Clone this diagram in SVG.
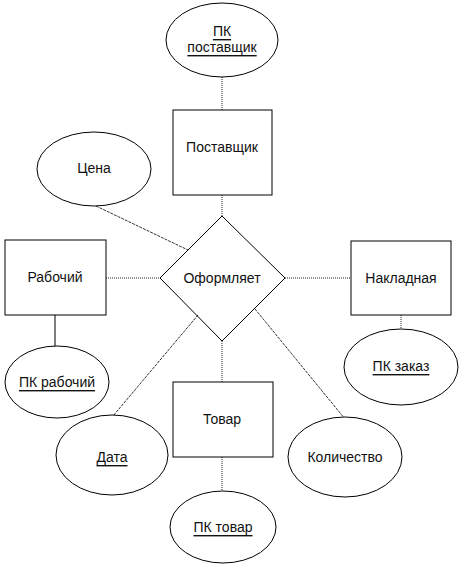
<svg xmlns="http://www.w3.org/2000/svg" width="461" height="565" viewBox="0 0 461 565">
<style>
text{font-family:"Liberation Sans",Arial,sans-serif;font-size:14px;fill:#111;text-anchor:middle;dominant-baseline:central}
.u{text-decoration:underline}
.box{fill:#fff;stroke:#000;stroke-width:1}
.ell{fill:#fff;stroke:#000;stroke-width:1}
.dot{stroke:#222;stroke-width:1;stroke-dasharray:1 1;fill:none}
.dsh{stroke:#000;stroke-width:0.8;stroke-dasharray:3 1;fill:none}
.sol{stroke:#000;stroke-width:1;fill:none}
</style>
<rect width="461" height="565" fill="#fff"/>
<g id="connectors">
<line class="dot" x1="222" y1="77" x2="222" y2="110"/>
<line class="dot" x1="222" y1="195" x2="222" y2="216"/>
<line class="dsh" x1="96" y1="206" x2="188" y2="250"/>
<line class="dot" x1="106" y1="278" x2="160" y2="278"/>
<line class="sol" x1="55" y1="315" x2="55" y2="346"/>
<line class="dot" x1="285" y1="278" x2="351" y2="278"/>
<line class="dot" x1="401" y1="315" x2="401" y2="329"/>
<line class="dsh" x1="198" y1="315" x2="113" y2="416"/>
<line class="dot" x1="222" y1="341" x2="222" y2="382"/>
<line class="dsh" x1="255" y1="309" x2="345" y2="419"/>
<line class="dot" x1="222" y1="457" x2="222" y2="491"/>
</g>
<g id="pk_postavshchik"><ellipse class="ell" cx="222" cy="40" rx="56" ry="37"/><text class="u" x="222" y="31">ПК</text><text class="u" x="222" y="47">поставщик</text></g>
<g id="postavshchik"><rect class="box" x="173" y="110" width="99" height="85"/><text x="222" y="147">Поставщик</text></g>
<g id="tsena"><ellipse class="ell" cx="94" cy="169" rx="57" ry="37"/><text x="94" y="168">Цена</text></g>
<g id="rabochiy"><rect class="box" x="5" y="240" width="101" height="75"/><text x="55" y="277">Рабочий</text></g>
<g id="oformlyaet"><polygon class="sol" points="222,216 285,278 222,341 160,278" fill="#fff"/><text x="222" y="278">Оформляет</text></g>
<g id="nakladnaya"><rect class="box" x="351" y="241" width="100" height="74"/><text x="401" y="278">Накладная</text></g>
<g id="pk_rabochiy"><ellipse class="ell" cx="57" cy="382" rx="52" ry="36"/><text class="u" x="57" y="382">ПК рабочий</text></g>
<g id="pk_zakaz"><ellipse class="ell" cx="401" cy="367" rx="57" ry="38"/><text class="u" x="401" y="366">ПК заказ</text></g>
<g id="data"><ellipse class="ell" cx="112" cy="455" rx="56" ry="40"/><text class="u" x="112" y="457">Дата</text></g>
<g id="tovar"><rect class="box" x="173" y="382" width="100" height="75"/><text x="222" y="419">Товар</text></g>
<g id="kolichestvo"><ellipse class="ell" cx="345" cy="457" rx="57" ry="40"/><text x="345" y="457">Количество</text></g>
<g id="pk_tovar"><ellipse class="ell" cx="223" cy="527" rx="53" ry="36"/><text class="u" x="223" y="527">ПК товар</text></g>
</svg>
